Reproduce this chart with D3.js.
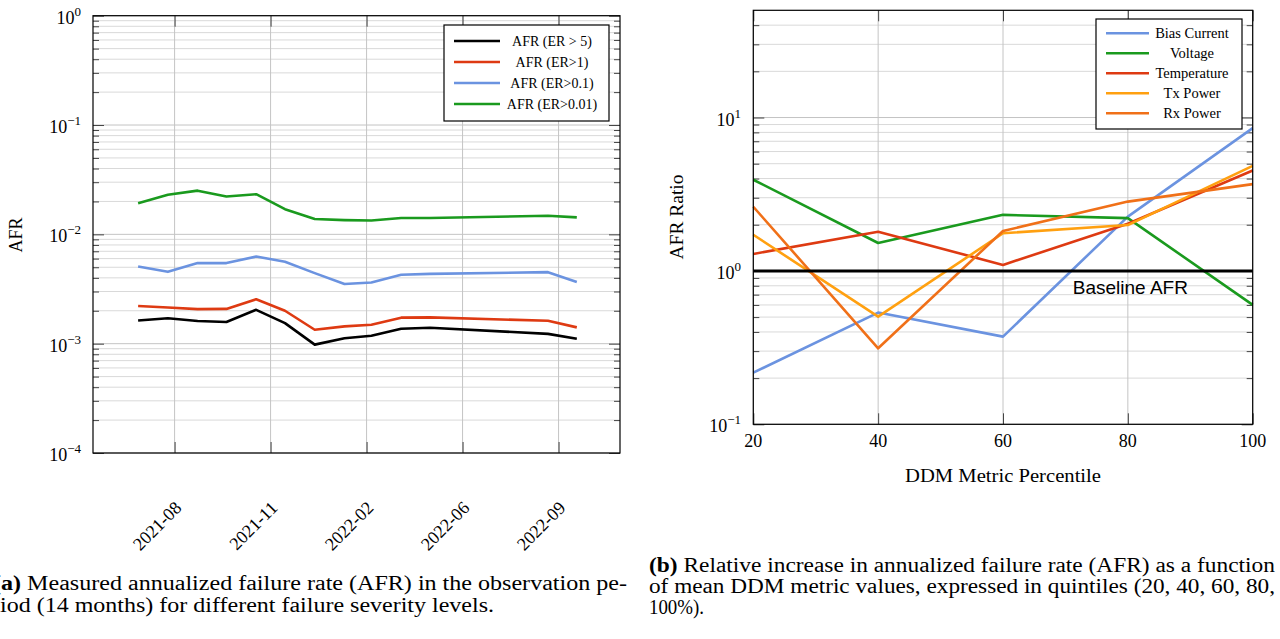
<!DOCTYPE html>
<html>
<head>
<meta charset="utf-8">
<script src="https://cdn.jsdelivr.net/npm/d3@7"></script>
<style>
  body { margin: 0; background: #fff; }
  text { font-family: "Liberation Serif", "DejaVu Serif", serif; fill: #000; }
</style>
</head>
<body>
<svg id="chart" width="1280" height="639"></svg>
<script>
// ---- data, panel (a) ----
const months = ["2021-07-01", "2021-08-01", "2021-09-01", "2021-10-01", "2021-11-01", "2021-12-01",
                "2022-01-01", "2022-02-01", "2022-03-01", "2022-04-01", "2022-05-01", "2022-09-01", "2022-10-01"];
const afrEr5    = [0.00163, 0.00171, 0.00161, 0.00158, 0.00204, 0.00154, 0.00098, 0.00112, 0.00118, 0.00137, 0.00140, 0.00123, 0.00111];
const afrEr1    = [0.00221, 0.00214, 0.00207, 0.00208, 0.00255, 0.00200, 0.00134, 0.00144, 0.00149, 0.00173, 0.00174, 0.00162, 0.00141];
const afrEr01   = [0.00508, 0.00454, 0.00546, 0.00546, 0.00627, 0.00561, 0.00442, 0.00351, 0.00363, 0.00427, 0.00435, 0.00451, 0.00366];
const afrEr001  = [0.0193, 0.0230, 0.0251, 0.0222, 0.0233, 0.0170, 0.0138, 0.0135, 0.0134, 0.0141, 0.0141, 0.0148, 0.0143];
const dateTicks = ["2021-08-08", "2021-11-16", "2022-02-24", "2022-06-04", "2022-09-12"];
const dateTickLabels = ["2021-08", "2021-11", "2022-02", "2022-06", "2022-09"];
const seriesA = ["AFR (ER > 5)", "AFR (ER>1)", "AFR (ER>0.1)", "AFR (ER>0.01)"];

// ---- data, panel (b) ----
const percentiles = [20, 40, 60, 80, 100];
const biasCurrent = [0.217, 0.535, 0.373, 2.26, 8.53];
const voltage     = [3.93, 1.52, 2.32, 2.21, 0.60];
const temperature = [1.29, 1.80, 1.094, 2.03, 4.51];
const txPower     = [1.72, 0.503, 1.76, 1.99, 4.84];
const rxPower     = [2.62, 0.313, 1.82, 2.83, 3.68];
const seriesB = ["Bias Current", "Voltage", "Temperature", "Tx Power", "Rx Power"];
const baselineAfr = 1;

const parse = d3.timeParse("%Y-%m-%d");
const svg = d3.select("#chart");

// superscript labels 10^e
function powLabel(sel) {
    sel.each(function(d) {
        const e = Math.round(Math.log10(d));
        const t = d3.select(this).text(null);
        t.append("tspan").text("10");
        t.append("tspan").attr("dy", -8).attr("font-size", 13)
            .text(e < 0 ? "\u2212" + (-e) : e);
    });
}

// major / minor values on a log domain
function logValues(domain) {
    const major = [], minor = [];
    const lo = Math.floor(Math.log10(domain[0])), hi = Math.ceil(Math.log10(domain[1]));
    for (let e = lo; e <= hi; e++) {
        const p = Math.pow(10, e);
        if (p >= domain[0] && p <= domain[1]) major.push(p);
        for (let m = 2; m <= 9; m++) {
            const v = m * p;
            if (v > domain[0] && v < domain[1]) minor.push(v);
        }
    }
    return { major, minor };
}

// grid and inward ticks for a panel
function frame(g, x, y, xTicks, box) {
    const lv = logValues(y.domain());

    g.append("g").selectAll("line").data(lv.minor).join("line")
        .attr("x1", box.x0).attr("x2", box.x1)
        .attr("y1", d => y(d)).attr("y2", d => y(d))
        .attr("stroke", "#d9d9d9").attr("stroke-width", 1);
    g.append("g").selectAll("line").data(lv.major).join("line")
        .attr("x1", box.x0).attr("x2", box.x1)
        .attr("y1", d => y(d)).attr("y2", d => y(d))
        .attr("stroke", "#c4c4c4").attr("stroke-width", 1);
    g.append("g").selectAll("line").data(xTicks).join("line")
        .attr("x1", d => x(d)).attr("x2", d => x(d))
        .attr("y1", box.y0).attr("y2", box.y1)
        .attr("stroke", "#c4c4c4").attr("stroke-width", 1);

    // tick marks via axes (drawn inward)
    const tickG = g.append("g").attr("class", "ticks");
    const mk = (axis, tx, ty) => {
        const a = tickG.append("g").attr("transform", `translate(${tx},${ty})`).call(axis);
        a.select(".domain").remove();
        a.selectAll("text").remove();
        a.selectAll("line").attr("stroke", "#444");
        return a;
    };
    mk(d3.axisLeft(y).tickValues(lv.major).tickSize(-11), box.x0, 0);
    mk(d3.axisLeft(y).tickValues(lv.minor).tickSize(-6), box.x0, 0);
    mk(d3.axisRight(y).tickValues(lv.major).tickSize(-11), box.x1, 0);
    mk(d3.axisRight(y).tickValues(lv.minor).tickSize(-6), box.x1, 0);
    mk(d3.axisBottom(x).tickValues(xTicks).tickSize(-11), 0, box.y1);
    mk(d3.axisTop(x).tickValues(xTicks).tickSize(-11), 0, box.y0);
}

function drawFrameBorder(g, box) {
    g.append("rect").attr("x", box.x0).attr("y", box.y0)
        .attr("width", box.x1 - box.x0).attr("height", box.y1 - box.y0)
        .attr("fill", "none").attr("stroke", "#000").attr("stroke-width", 1.2);
}

function legend(g, names, colors, box, rowY, step, lineX, textX, fs) {
    g.append("rect").attr("x", box.x0).attr("y", box.y0)
        .attr("width", box.x1 - box.x0).attr("height", box.y1 - box.y0)
        .attr("fill", "#fff").attr("stroke", "#000").attr("stroke-width", 1.2);
    names.forEach((n, i) => {
        const yy = rowY + i * step;
        g.append("line").attr("x1", lineX[0]).attr("x2", lineX[1])
            .attr("y1", yy).attr("y2", yy)
            .attr("stroke", colors[i]).attr("stroke-width", 2.6);
        g.append("text").attr("x", textX).attr("y", yy + 4.8)
            .attr("text-anchor", "middle").attr("font-size", fs).text(n);
    });
}

// ================= panel (a) =================
const boxA = { x0: 93, y0: 15.7, x1: 620, y1: 453 };
const xA = d3.scaleTime().domain([parse("2021-05-15"), parse("2022-11-15")]).range([boxA.x0, boxA.x1]);
const yA = d3.scaleLog().domain([1e-4, 1]).range([boxA.y1, boxA.y0]);
const tickDatesA = dateTicks.map(parse);
const gA = svg.append("g");

frame(gA, xA, yA, tickDatesA, boxA);

const colorsA = ["#000000", "#de3a12", "#6b93e0", "#1a9a1e"];
const valuesA = [afrEr5, afrEr1, afrEr01, afrEr001];
const lineA = d3.line().x(d => xA(d[0])).y(d => yA(d[1]));
valuesA.forEach((vals, i) => {
    gA.append("path")
        .attr("d", lineA(months.map((m, j) => [parse(m), vals[j]])))
        .attr("fill", "none").attr("stroke", colorsA[i])
        .attr("stroke-width", 2.6).attr("stroke-linejoin", "round");
});
drawFrameBorder(gA, boxA);

// y tick labels
gA.append("g").selectAll("text").data(logValues(yA.domain()).major).join("text")
    .attr("x", 81).attr("y", d => yA(d) + 8)
    .attr("text-anchor", "end").attr("font-size", 18)
    .call(powLabel);

// x tick labels (rotated)
gA.append("g").selectAll("text").data(tickDatesA).join("text")
    .attr("text-anchor", "end").attr("font-size", 18)
    .attr("transform", d => `translate(${xA(d) + 8},${509}) rotate(-45)`)
    .text((d, i) => dateTickLabels[i]);

gA.append("text").attr("transform", "translate(22,235) rotate(-90)")
    .attr("text-anchor", "middle").attr("font-size", 18).text("AFR");

legend(gA, seriesA, colorsA, { x0: 444, y0: 25, x1: 609, y1: 121 }, 41, 21, [454, 500], 552, 14);

// ================= panel (b) =================
const boxB = { x0: 753.3, y0: 10.3, x1: 1252.7, y1: 424.3 };
const xB = d3.scaleLinear().domain([20, 100]).range([boxB.x0, boxB.x1]);
const yB = d3.scaleLog().domain([0.1, 50]).range([boxB.y1, boxB.y0]);
const gB = svg.append("g");

frame(gB, xB, yB, percentiles, boxB);

const colorsB = ["#6b93e0", "#1a9a1e", "#de3a12", "#ffa010", "#f07018"];
const valuesB = [biasCurrent, voltage, temperature, txPower, rxPower];
const lineB = d3.line().x(d => xB(d[0])).y(d => yB(d[1]));
valuesB.forEach((vals, i) => {
    gB.append("path")
        .attr("d", lineB(percentiles.map((p, j) => [p, vals[j]])))
        .attr("fill", "none").attr("stroke", colorsB[i])
        .attr("stroke-width", 2.6).attr("stroke-linejoin", "round");
});

// baseline
gB.append("line")
    .attr("x1", boxB.x0).attr("x2", boxB.x1)
    .attr("y1", yB(baselineAfr)).attr("y2", yB(baselineAfr))
    .attr("stroke", "#000").attr("stroke-width", 3);
gB.append("text").attr("x", xB(80.4)).attr("y", yB(baselineAfr) + 23)
    .attr("text-anchor", "middle").attr("font-size", 19)
    .style("font-family", "'Liberation Sans', Arial, sans-serif")
    .text("Baseline AFR");

drawFrameBorder(gB, boxB);

gB.append("g").selectAll("text").data(logValues(yB.domain()).major).join("text")
    .attr("x", 741).attr("y", d => yB(d) + 8)
    .attr("text-anchor", "end").attr("font-size", 18)
    .call(powLabel);

gB.append("g").selectAll("text").data(percentiles).join("text")
    .attr("x", d => xB(d)).attr("y", 447)
    .attr("text-anchor", "middle").attr("font-size", 18).text(d => d);

gB.append("text").attr("x", xB(60)).attr("y", 482)
    .attr("text-anchor", "middle").attr("font-size", 19)
    .attr("textLength", 196).attr("lengthAdjust", "spacingAndGlyphs")
    .text("DDM Metric Percentile");
gB.append("text").attr("transform", "translate(683,217) rotate(-90)")
    .attr("text-anchor", "middle").attr("font-size", 19)
    .attr("textLength", 85).attr("lengthAdjust", "spacingAndGlyphs")
    .text("AFR Ratio");

legend(gB, seriesB, colorsB, { x0: 1096, y0: 19, x1: 1242, y1: 129 }, 33.3, 20, [1106, 1149], 1192, 14.5);

// ================= captions =================
// caption (a) starts just left of the page edge, as in the original figure
const capA1 = svg.append("text").attr("x", -7).attr("y", 590).attr("font-size", 20)
    .attr("textLength", 634).attr("lengthAdjust", "spacingAndGlyphs");
capA1.append("tspan").attr("font-weight", "bold").text("(a)");
capA1.append("tspan").text(" Measured annualized failure rate (AFR) in the observation pe-");
svg.append("text").attr("x", 0).attr("y", 612).attr("font-size", 20)
    .attr("textLength", 494).attr("lengthAdjust", "spacingAndGlyphs")
    .text("iod (14 months) for different failure severity levels.");

const capB1 = svg.append("text").attr("x", 649).attr("y", 572).attr("font-size", 20)
    .attr("textLength", 626).attr("lengthAdjust", "spacingAndGlyphs");
capB1.append("tspan").attr("font-weight", "bold").text("(b)");
capB1.append("tspan").text(" Relative increase in annualized failure rate (AFR) as a function");
svg.append("text").attr("x", 649).attr("y", 593).attr("font-size", 20)
    .attr("textLength", 626).attr("lengthAdjust", "spacingAndGlyphs")
    .text("of mean DDM metric values, expressed in quintiles (20, 40, 60, 80,");
svg.append("text").attr("x", 649).attr("y", 614).attr("font-size", 20)
    .attr("textLength", 55).attr("lengthAdjust", "spacingAndGlyphs")
    .text("100%).");
</script>
</body>
</html>
